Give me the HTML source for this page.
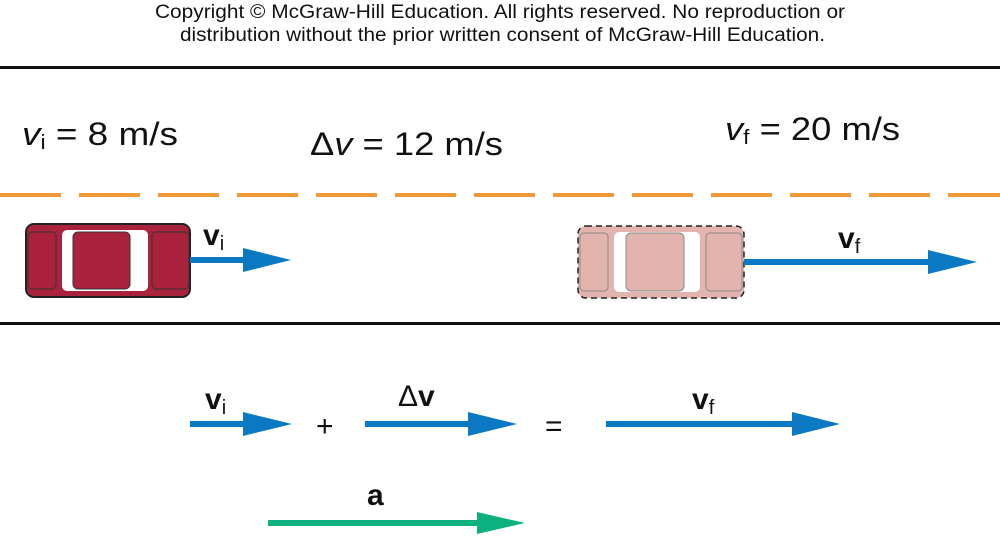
<!DOCTYPE html>
<html><head><meta charset="utf-8"><style>
html,body{margin:0;padding:0;background:#fff;}
svg{display:block;font-family:"Liberation Sans",Arial,sans-serif;}
</style></head><body>
<svg width="1000" height="538" viewBox="0 0 1000 538">
<g font-size="19" fill="#111">
<text x="155" y="18" textLength="690" lengthAdjust="spacingAndGlyphs">Copyright © McGraw-Hill Education.  All rights reserved. No reproduction or</text>
<text x="180" y="41" textLength="645" lengthAdjust="spacingAndGlyphs">distribution without the prior written consent of McGraw-Hill Education.</text>
</g>
<rect x="0" y="66" width="1000" height="3" fill="#111"/>
<rect x="0" y="322" width="1000" height="3" fill="#111"/>
<line x1="0" y1="195" x2="1000" y2="195" stroke="#f39a38" stroke-width="4" stroke-dasharray="61 18"/>
<g font-size="32" fill="#111">
<text x="22" y="145" textLength="156" lengthAdjust="spacingAndGlyphs"><tspan font-style="italic">v</tspan><tspan font-size="20" dy="4">i</tspan><tspan dy="-4"> = 8 m/s</tspan></text>
<text x="310" y="155" textLength="193" lengthAdjust="spacingAndGlyphs">Δ<tspan font-style="italic">v</tspan> = 12 m/s</text>
<text x="725" y="140" textLength="175" lengthAdjust="spacingAndGlyphs"><tspan font-style="italic">v</tspan><tspan font-size="20" dy="4">f</tspan><tspan dy="-4"> = 20 m/s</tspan></text>
</g>
<g>
<rect x="26" y="224" width="164" height="73" rx="8" fill="#a8233b" stroke="#222" stroke-width="2"/>
<rect x="62" y="230" width="86" height="61" rx="5" fill="#fff"/>
<rect x="73" y="232" width="57" height="57" rx="5" fill="#a8233b" stroke="#333" stroke-width="1"/>
<rect x="28" y="232" width="28" height="57" rx="4" fill="none" stroke="#333" stroke-width="1"/>
<rect x="152" y="232" width="37" height="57" rx="4" fill="none" stroke="#333" stroke-width="1"/>
</g>
<g>
<rect x="578" y="226" width="166" height="72" rx="8" fill="#e3b3ae" stroke="#222" stroke-width="1.5" stroke-dasharray="6 4"/>
<rect x="614" y="232" width="86" height="60" rx="5" fill="#fff"/>
<rect x="626" y="233" width="58" height="58" rx="5" fill="#e3b3ae" stroke="#888" stroke-width="1"/>
<rect x="580" y="233" width="28" height="58" rx="4" fill="none" stroke="#888" stroke-width="1"/>
<rect x="706" y="233" width="36" height="58" rx="4" fill="none" stroke="#888" stroke-width="1"/>
</g>
<g fill="#0a78c3">
<g><rect x="190" y="257" width="55" height="6"/><polygon points="243,248 291,260 243,272"/></g>
<g><rect x="744" y="259" width="186" height="6"/><polygon points="928,250 977,262 928,274"/></g>
<g><rect x="190" y="421" width="55" height="6"/><polygon points="243,412 292,424 243,436"/></g>
<g><rect x="365" y="421" width="105" height="6"/><polygon points="468,412 517,424 468,436"/></g>
<g><rect x="606" y="421" width="188" height="6"/><polygon points="792,412 840,424 792,436"/></g>
</g>
<g fill="#0db07f"><rect x="268" y="520" width="212" height="6"/><polygon points="477,512 525,523 477,534"/></g>
<g font-weight="bold" fill="#111" font-size="30">
<text x="203" y="245">v<tspan font-weight="normal" font-size="20" dy="5">i</tspan></text>
<text x="838" y="248">v<tspan font-weight="normal" font-size="20" dy="5">f</tspan></text>
<text x="205" y="409">v<tspan font-weight="normal" font-size="20" dy="5">i</tspan></text>
<text x="398" y="406"><tspan font-weight="normal">Δ</tspan>v</text>
<text x="692" y="409">v<tspan font-weight="normal" font-size="20" dy="5">f</tspan></text>
<text x="367" y="505">a</text>
</g>
<g font-size="30" fill="#111">
<text x="316" y="436">+</text>
<text x="545" y="436">=</text>
</g>
</svg>
</body></html>
